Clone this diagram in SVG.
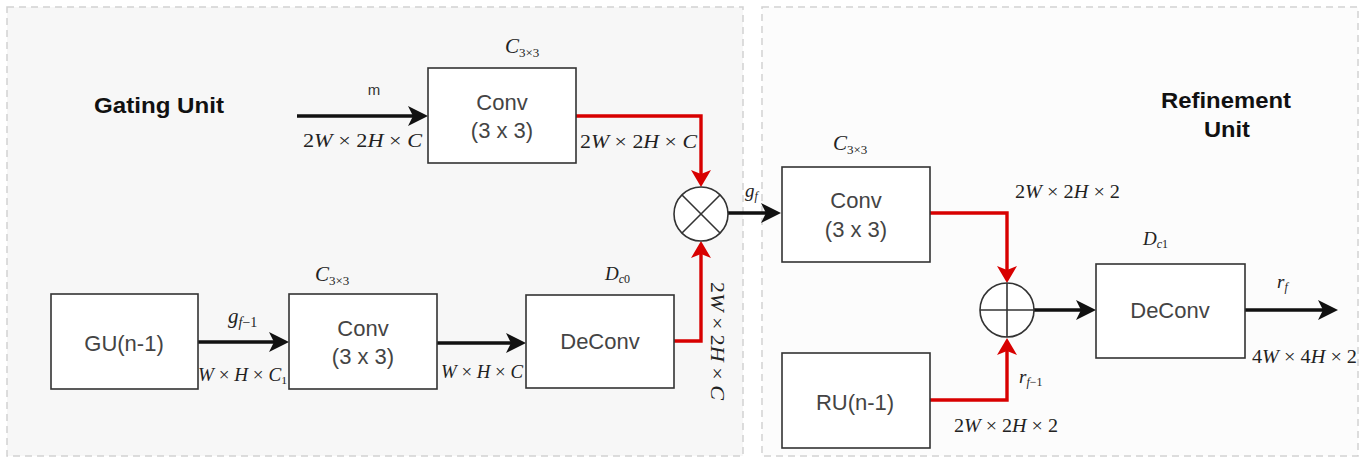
<svg xmlns="http://www.w3.org/2000/svg" width="1368" height="459" viewBox="0 0 1368 459">
<style>
.panel{stroke:#d2d2d2;stroke-width:1.5;stroke-dasharray:7 5}
.box{fill:#ffffff;stroke:#333333;stroke-width:1.6}
.btxt{font-family:"Liberation Sans",Arial,sans-serif;font-size:22px;fill:#444444;text-anchor:middle}
.title{font-family:"Liberation Sans",Arial,sans-serif;font-size:22px;font-weight:bold;fill:#111111}
.math{font-family:"Liberation Serif","Times New Roman",serif;font-size:18px;fill:#222222}
.i{font-style:italic}
.blk{fill:none;stroke:#111111;stroke-width:3.5}
.red{fill:none;stroke:#d80000;stroke-width:3.4}
.op{fill:#ffffff;stroke:#333333;stroke-width:1.6}
.opl{stroke:#333333;stroke-width:1.6}
.small{font-family:"Liberation Sans",Arial,sans-serif;font-size:15px;fill:#333333;text-anchor:middle}
</style>
<defs>
<marker id="ab" markerUnits="userSpaceOnUse" markerWidth="20" markerHeight="20" refX="12" refY="10" orient="auto">
<path d="M0,0 L20,10 L0,20 L5,10 Z" fill="#111111"/>
</marker>
<marker id="ar" markerUnits="userSpaceOnUse" markerWidth="17" markerHeight="20" refX="10" refY="10" orient="auto">
<path d="M0,0 L17,10 L0,20 L4,10 Z" fill="#d80000"/>
</marker>
</defs>
<rect width="1368" height="459" fill="#ffffff"/>
<g id="panels">
<rect class="panel" x="7" y="7" width="736" height="449" fill="#f7f7f7"/>
<rect class="panel" x="762" y="7" width="596" height="449" fill="#fcfcfc"/>
</g>
<g id="titles">
<text class="title" x="94" y="113" textLength="130" lengthAdjust="spacingAndGlyphs">Gating Unit</text>
<text class="title" x="1161" y="108" textLength="130" lengthAdjust="spacingAndGlyphs">Refinement</text>
<text class="title" x="1204" y="137" textLength="46" lengthAdjust="spacingAndGlyphs">Unit</text>
</g>
<g id="connectors">
<path class="blk" d="M297,116 H420" marker-end="url(#ab)"/>
<path class="red" d="M576,116 H701 V180" marker-end="url(#ar)"/>
<path class="red" d="M674,341 H701 V248" marker-end="url(#ar)"/>
<path class="blk" d="M728,213 H773" marker-end="url(#ab)"/>
<path class="blk" d="M198,342 H281" marker-end="url(#ab)"/>
<path class="blk" d="M437,343 H518" marker-end="url(#ab)"/>
<path class="red" d="M930,213 H1007 V276" marker-end="url(#ar)"/>
<path class="red" d="M930,400 H1007 V345" marker-end="url(#ar)"/>
<path class="blk" d="M1034,310 H1088" marker-end="url(#ab)"/>
<path class="blk" d="M1245,310 H1330" marker-end="url(#ab)"/>
</g>
<g id="conv-top">
<rect class="box" x="428" y="68" width="148" height="95"/>
<text class="btxt" x="502" y="110">Conv</text>
<text class="btxt" x="502" y="138">(3 x 3)</text>
<text class="math" x="505" y="53"><tspan class="i" font-size="21">C</tspan><tspan font-size="13" dy="4">3×3</tspan></text>
</g>
<g id="gu">
<rect class="box" x="51" y="294" width="147" height="95"/>
<text class="btxt" x="124" y="351">GU(n-1)</text>
</g>
<g id="conv-bot">
<rect class="box" x="289" y="294" width="148" height="95"/>
<text class="btxt" x="363" y="336">Conv</text>
<text class="btxt" x="363" y="364">(3 x 3)</text>
<text class="math" x="315" y="281"><tspan class="i" font-size="21">C</tspan><tspan font-size="13" dy="4">3×3</tspan></text>
</g>
<g id="deconv0">
<rect class="box" x="526" y="295" width="148" height="93"/>
<text class="btxt" x="600" y="349">DeConv</text>
<text class="math" x="605" y="280"><tspan class="i" font-size="19">D</tspan><tspan class="i" font-size="12" dy="3">c</tspan><tspan font-size="12">0</tspan></text>
</g>
<g id="mul">
<circle class="op" cx="701" cy="214" r="27"/>
<line class="opl" x1="682" y1="195" x2="720" y2="233"/>
<line class="opl" x1="720" y1="195" x2="682" y2="233"/>
</g>
<g id="conv2">
<rect class="box" x="782" y="167" width="148" height="95"/>
<text class="btxt" x="856" y="208">Conv</text>
<text class="btxt" x="856" y="237">(3 x 3)</text>
<text class="math" x="833" y="150"><tspan class="i" font-size="21">C</tspan><tspan font-size="13" dy="4">3×3</tspan></text>
</g>
<g id="plus">
<circle class="op" cx="1007" cy="310" r="27"/>
<line class="opl" x1="980" y1="310" x2="1034" y2="310"/>
<line class="opl" x1="1007" y1="283" x2="1007" y2="337"/>
</g>
<g id="deconv1">
<rect class="box" x="1096" y="264" width="149" height="94"/>
<text class="btxt" x="1170" y="318">DeConv</text>
<text class="math" x="1143" y="245"><tspan class="i" font-size="19">D</tspan><tspan class="i" font-size="12" dy="3">c</tspan><tspan font-size="12">1</tspan></text>
</g>
<g id="ru">
<rect class="box" x="782" y="353" width="148" height="95"/>
<text class="btxt" x="855" y="410">RU(n-1)</text>
</g>
<g id="labels">
<text class="small" x="374" y="95">m</text>
<text class="math" x="303" y="147" textLength="119" lengthAdjust="spacingAndGlyphs">2<tspan class="i">W</tspan> × 2<tspan class="i">H</tspan> × <tspan class="i">C</tspan></text>
<text class="math" x="580" y="148" textLength="117" lengthAdjust="spacingAndGlyphs">2<tspan class="i">W</tspan> × 2<tspan class="i">H</tspan> × <tspan class="i">C</tspan></text>
<text class="math" x="228" y="323"><tspan class="i" font-size="21">g</tspan><tspan class="i" font-size="14" dy="4">f</tspan><tspan font-size="14">−1</tspan></text>
<text class="math" x="198" y="381" font-size="16" textLength="89" lengthAdjust="spacingAndGlyphs"><tspan class="i">W</tspan> × <tspan class="i">H</tspan> × <tspan class="i">C</tspan><tspan font-size="11" dy="3">1</tspan></text>
<text class="math" x="441" y="378" font-size="16" textLength="82" lengthAdjust="spacingAndGlyphs"><tspan class="i">W</tspan> × <tspan class="i">H</tspan> × <tspan class="i">C</tspan></text>
<text class="math" transform="translate(711,341) rotate(90)" text-anchor="middle" textLength="118" lengthAdjust="spacingAndGlyphs">2<tspan class="i">W</tspan> × 2<tspan class="i">H</tspan> × <tspan class="i">C</tspan></text>
<text class="math" x="745" y="197"><tspan class="i" font-size="19">g</tspan><tspan class="i" font-size="12" dy="3">f</tspan></text>
<text class="math" x="1015" y="198" font-size="16" textLength="105" lengthAdjust="spacingAndGlyphs">2<tspan class="i">W</tspan> × 2<tspan class="i">H</tspan> × 2</text>
<text class="math" x="1277" y="288"><tspan class="i" font-size="19">r</tspan><tspan class="i" font-size="12" dy="3">f</tspan></text>
<text class="math" x="1252" y="363" font-size="16" textLength="105" lengthAdjust="spacingAndGlyphs">4<tspan class="i">W</tspan> × 4<tspan class="i">H</tspan> × 2</text>
<text class="math" x="1019" y="383"><tspan class="i" font-size="19">r</tspan><tspan class="i" font-size="12" dy="3">f</tspan><tspan font-size="12">−1</tspan></text>
<text class="math" x="954" y="432" font-size="16" textLength="104" lengthAdjust="spacingAndGlyphs">2<tspan class="i">W</tspan> × 2<tspan class="i">H</tspan> × 2</text>
</g>
</svg>
